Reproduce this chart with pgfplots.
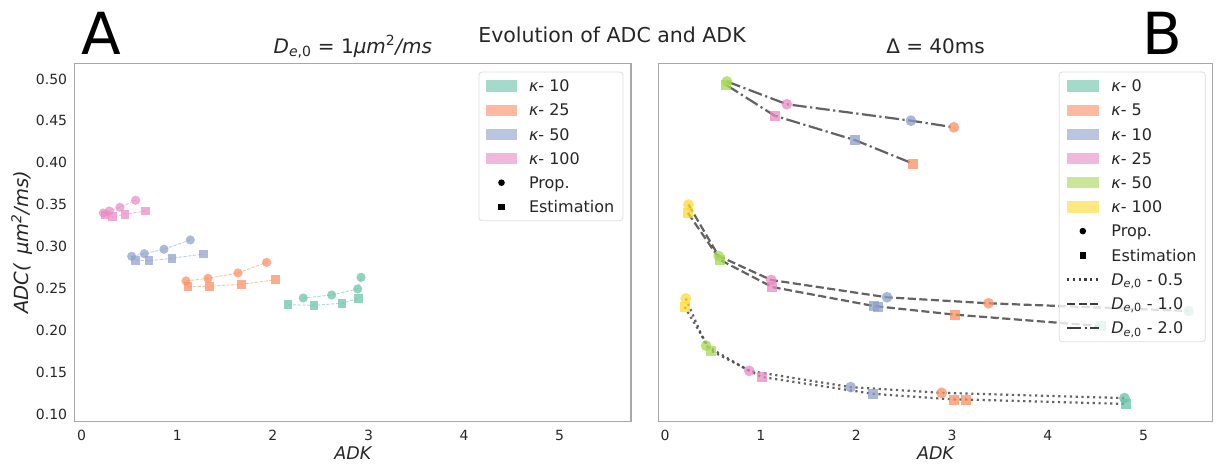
\documentclass[border=0pt]{standalone}
\usepackage{fontspec}
\setmainfont{DejaVu Sans}
\usepackage{pgfplots}
\pgfplotsset{compat=1.18}
\definecolor{cteal}{HTML}{66C2A5}
\definecolor{corange}{HTML}{FC8D62}
\definecolor{cblue}{HTML}{8DA0CB}
\definecolor{cpink}{HTML}{E78AC3}
\definecolor{cgreen}{HTML}{A6D854}
\definecolor{cyellow}{HTML}{FFD92F}
\definecolor{spine}{HTML}{A8A8A8}
\definecolor{lgray}{HTML}{3C3C3C}
\definecolor{txt}{HTML}{262626}
\definecolor{legframe}{HTML}{DDDDDD}
\pgfplotsset{
 panel/.style={
  scale only axis, height=358pt, ymin=0.0913, ymax=0.5187,
  axis line style={draw=spine, line width=1.5pt},
  major tick length=0pt,
  xtick={0,1,2,3,4,5},
  ytick={0.10,0.15,0.20,0.25,0.30,0.35,0.40,0.45,0.50},
  /pgf/number format/assume math mode=true,
  ticklabel style={font=\fontsize{14}{16}\selectfont, text=txt},
  xticklabel style={inner sep=0pt, anchor=north},
  yticklabel style={inner sep=0pt, anchor=east, /pgf/number format/.cd, fixed, fixed zerofill, precision=2},
  xticklabel shift=8.7pt, yticklabel shift=7.4pt,
  every axis x label/.style={at={(axis description cs:0.5,-0.0718)}, anchor=north, inner sep=0pt, font=\fontsize{17.5}{20}\selectfont\itshape, text=txt},
  every axis y label/.style={at={(axis description cs:-0.0947,0.5)}, rotate=90, anchor=center, inner sep=0pt, font=\fontsize{19.5}{22}\selectfont\itshape, text=txt},
  title style={at={(axis description cs:0.5,1.012)}, anchor=base, inner sep=0pt, font=\fontsize{20}{24}\selectfont, text=txt},
  legend cell align=left,
  legend style={at={(1,1)}, anchor=north east, draw=legframe, line width=0.8pt, rounded corners=3pt, fill=white, fill opacity=0.8, text opacity=1, draw opacity=1, inner xsep=6.7pt, inner ysep=6.5pt, row sep=9.6pt, font=\fontsize{16}{19}\selectfont, text=txt, nodes={inner xsep=2pt, inner ysep=0pt, text height=13pt, text depth=1.6pt}, /tikz/every odd column/.append style={column sep=9.7pt}},
 },
 patchimg/.style={legend image code/.code={\path[draw=none, fill=#1, fill opacity=0.6, sharp corners] (0pt,-5.6pt) rectangle (31.6pt,5.6pt);}},
 propimg/.style={legend image code/.code={\path[draw=none, fill=none] (0pt,0pt) -- (31.6pt,0pt); \path[draw=none, fill=black, fill opacity=1] (15.8pt,0pt) circle (3.3pt);}},
 estimg/.style={legend image code/.code={\path[draw=none, fill=none] (0pt,0pt) -- (31.6pt,0pt); \path[draw=none, fill=black, fill opacity=1, sharp corners] (12.6pt,-3.2pt) rectangle (19pt,3.2pt);}},
 lineimg/.style={legend image code/.code={\draw[lgray, line width=2.2pt, sharp corners, #1] (0pt,0pt) -- (31.6pt,0pt);}},
 circA/.style={forget plot, only marks, color=#1, mark=*, mark size=4.6pt, mark options={solid, fill=#1, fill opacity=0.72, draw opacity=0}},
 sqrA/.style={forget plot, only marks, color=#1, mark=square*, mark size=4.3pt, mark options={solid, fill=#1, fill opacity=0.72, draw opacity=0}},
 lineA/.style={forget plot, no markers, draw=#1, draw opacity=0.55, line width=0.9pt, dash pattern=on 3.3pt off 1.5pt},
 circB/.style={forget plot, only marks, color=#1, mark=*, mark size=5.4pt, mark options={solid, fill=#1, fill opacity=0.75, draw opacity=0}},
 sqrB/.style={forget plot, only marks, color=#1, mark=square*, mark size=5.0pt, mark options={solid, fill=#1, fill opacity=0.75, draw opacity=0}},
 lineB/.style={forget plot, no markers, draw=lgray, draw opacity=0.8, line width=2.2pt, #1},
}
\begin{document}
\begin{tikzpicture}
\path[use as bounding box] (0pt,0pt) rectangle (1219pt,466pt);

\node[anchor=base west, inner sep=0pt, font=\fontsize{58}{60}\selectfont] at (81.5pt,411pt) {A};
\node[anchor=base west, inner sep=0pt, font=\fontsize{58}{60}\selectfont] at (1142pt,411pt) {B};
\node[anchor=base, inner sep=0pt, font=\fontsize{20.5}{24}\selectfont, text=txt] at (612pt,423pt) {Evolution of ADC and ADK};

% ---------------- Panel A ----------------
\begin{axis}[panel, at={(74.7pt,44.7pt)}, anchor=south west, width=556.3pt,
  xmin=-0.073, xmax=5.746,
  title={{\itshape D}\textsubscript{{\itshape e},0} = 1{\itshape μm}\textsuperscript{2}{\itshape /ms}},
  xlabel={ADK}, ylabel={ADC(\, μm\textsuperscript{2}/ms)},
  legend style={xshift=-7.7pt, yshift=-8.4pt}]
\addlegendimage{patchimg=cteal}\addlegendentry{{\itshape κ}- 10}
\addlegendimage{patchimg=corange}\addlegendentry{{\itshape κ}- 25}
\addlegendimage{patchimg=cblue}\addlegendentry{{\itshape κ}- 50}
\addlegendimage{patchimg=cpink}\addlegendentry{{\itshape κ}- 100}
\addlegendimage{propimg}\addlegendentry{Prop.}
\addlegendimage{estimg}\addlegendentry{Estimation}

% kappa 10
\addplot[lineA=cteal] coordinates {(2.318,0.2385)(2.615,0.2421)(2.887,0.2493)(2.922,0.2632)};
\addplot[lineA=cteal] coordinates {(2.158,0.2305)(2.430,0.2298)(2.723,0.2322)(2.897,0.2382)};
\addplot[circA=cteal] coordinates {(2.318,0.2385)(2.615,0.2421)(2.887,0.2493)(2.922,0.2632)};
\addplot[sqrA=cteal] coordinates {(2.158,0.2305)(2.430,0.2298)(2.723,0.2322)(2.897,0.2382)};
% kappa 25
\addplot[lineA=corange] coordinates {(1.091,0.2588)(1.321,0.2620)(1.635,0.2684)(1.935,0.2811)};
\addplot[lineA=corange] coordinates {(1.112,0.2520)(1.335,0.2525)(1.674,0.2549)(2.029,0.2604)};
\addplot[circA=corange] coordinates {(1.091,0.2588)(1.321,0.2620)(1.635,0.2684)(1.935,0.2811)};
\addplot[sqrA=corange] coordinates {(1.112,0.2520)(1.335,0.2525)(1.674,0.2549)(2.029,0.2604)};
% kappa 50
\addplot[lineA=cblue] coordinates {(0.523,0.2883)(0.655,0.2914)(0.861,0.2967)(1.136,0.3078)};
\addplot[lineA=cblue] coordinates {(0.565,0.2835)(0.704,0.2830)(0.945,0.2859)(1.272,0.2910)};
\addplot[circA=cblue] coordinates {(0.523,0.2883)(0.655,0.2914)(0.861,0.2967)(1.136,0.3078)};
\addplot[sqrA=cblue] coordinates {(0.565,0.2835)(0.704,0.2830)(0.945,0.2859)(1.272,0.2910)};
% kappa 100
\addplot[lineA=cpink] coordinates {(0.226,0.3400)(0.289,0.3424)(0.400,0.3468)(0.565,0.3552)};
\addplot[lineA=cpink] coordinates {(0.244,0.3376)(0.320,0.3356)(0.453,0.3385)(0.669,0.3424)};
\addplot[circA=cpink] coordinates {(0.226,0.3400)(0.289,0.3424)(0.400,0.3468)(0.565,0.3552)};
\addplot[sqrA=cpink] coordinates {(0.244,0.3376)(0.320,0.3356)(0.453,0.3385)(0.669,0.3424)};
\end{axis}

% ---------------- Panel B ----------------
\begin{axis}[panel, at={(658.3pt,44.7pt)}, anchor=south west, width=554.4pt,
  xmin=-0.070, xmax=5.722, yticklabels={},
  title={Δ = 40ms}, xlabel={ADK},
  legend style={xshift=-7pt, yshift=-8.4pt}]
\addlegendimage{patchimg=cteal}\addlegendentry{{\itshape κ}- 0}
\addlegendimage{patchimg=corange}\addlegendentry{{\itshape κ}- 5}
\addlegendimage{patchimg=cblue}\addlegendentry{{\itshape κ}- 10}
\addlegendimage{patchimg=cpink}\addlegendentry{{\itshape κ}- 25}
\addlegendimage{patchimg=cgreen}\addlegendentry{{\itshape κ}- 50}
\addlegendimage{patchimg=cyellow}\addlegendentry{{\itshape κ}- 100}
\addlegendimage{propimg}\addlegendentry{Prop.}
\addlegendimage{estimg}\addlegendentry{Estimation}
\addlegendimage{lineimg={dash pattern=on 2.2pt off 3.6pt}}\addlegendentry{{\itshape D}\textsubscript{{\itshape e},0} - 0.5}
\addlegendimage{lineimg={dash pattern=on 8.1pt off 3.5pt}}\addlegendentry{{\itshape D}\textsubscript{{\itshape e},0} - 1.0}
\addlegendimage{lineimg={dash pattern=on 14.1pt off 3.5pt on 2.2pt off 3.5pt}}\addlegendentry{{\itshape D}\textsubscript{{\itshape e},0} - 2.0}

% markers: kappa 0 (teal)
\addplot[circB=cteal] coordinates {(4.80,0.1190)(5.47,0.2230)};
\addplot[sqrB=cteal] coordinates {(4.82,0.1120)(4.55,0.2050)};
% kappa 5 (orange)
\addplot[circB=corange] coordinates {(2.89,0.1253)(3.38,0.2322)(3.018,0.4423)};
\addplot[sqrB=corange] coordinates {(3.02,0.1173)(3.145,0.1173)(3.03,0.2186)(2.589,0.3990)};
% kappa 10 (blue)
\addplot[circB=cblue] coordinates {(1.94,0.1321)(2.32,0.2393)(2.569,0.4502)};
\addplot[sqrB=cblue] coordinates {(2.175,0.1241)(2.18,0.2290)(2.22,0.2280)(1.987,0.4269)};
% kappa 25 (pink)
\addplot[circB=cpink] coordinates {(0.88,0.1515)(1.11,0.2600)(1.273,0.4698)};
\addplot[sqrB=cpink] coordinates {(1.01,0.1442)(1.12,0.2516)(1.144,0.4562)};
% kappa 50 (green)
\addplot[circB=cgreen] coordinates {(0.43,0.1816)(0.56,0.2887)(0.647,0.4970)};
\addplot[sqrB=cgreen] coordinates {(0.48,0.1756)(0.575,0.2840)(0.638,0.4930)};
% kappa 100 (yellow)
\addplot[circB=cyellow] coordinates {(0.217,0.2379)(0.245,0.3500)};
\addplot[sqrB=cyellow] coordinates {(0.205,0.2279)(0.240,0.3400)};

% lines De = 0.5 (dotted)
\addplot[lineB={dash pattern=on 2.2pt off 3.6pt}] coordinates {(0.217,0.2379)(0.43,0.1816)(0.88,0.1515)(1.94,0.1321)(2.89,0.1253)(4.80,0.1190)};
\addplot[lineB={dash pattern=on 2.2pt off 3.6pt}] coordinates {(0.205,0.2279)(0.48,0.1756)(1.01,0.1442)(2.175,0.1241)(3.02,0.1173)(3.145,0.1173)(4.82,0.1120)};
% lines De = 1.0 (dashed)
\addplot[lineB={dash pattern=on 8.1pt off 3.5pt}] coordinates {(0.245,0.3500)(0.56,0.2887)(1.11,0.2600)(2.32,0.2393)(3.38,0.2322)(5.47,0.2230)};
\addplot[lineB={dash pattern=on 8.1pt off 3.5pt}] coordinates {(0.240,0.3400)(0.575,0.2840)(1.12,0.2516)(2.18,0.2290)(3.03,0.2186)(4.55,0.2050)};
% lines De = 2.0 (dash-dot)
\addplot[lineB={dash pattern=on 14.1pt off 3.5pt on 2.2pt off 3.5pt}] coordinates {(0.647,0.4970)(1.273,0.4698)(2.569,0.4502)(3.018,0.4423)};
\addplot[lineB={dash pattern=on 14.1pt off 3.5pt on 2.2pt off 3.5pt}] coordinates {(0.638,0.4930)(1.144,0.4562)(1.987,0.4269)(2.589,0.3990)};
\end{axis}
\end{tikzpicture}
\end{document}
